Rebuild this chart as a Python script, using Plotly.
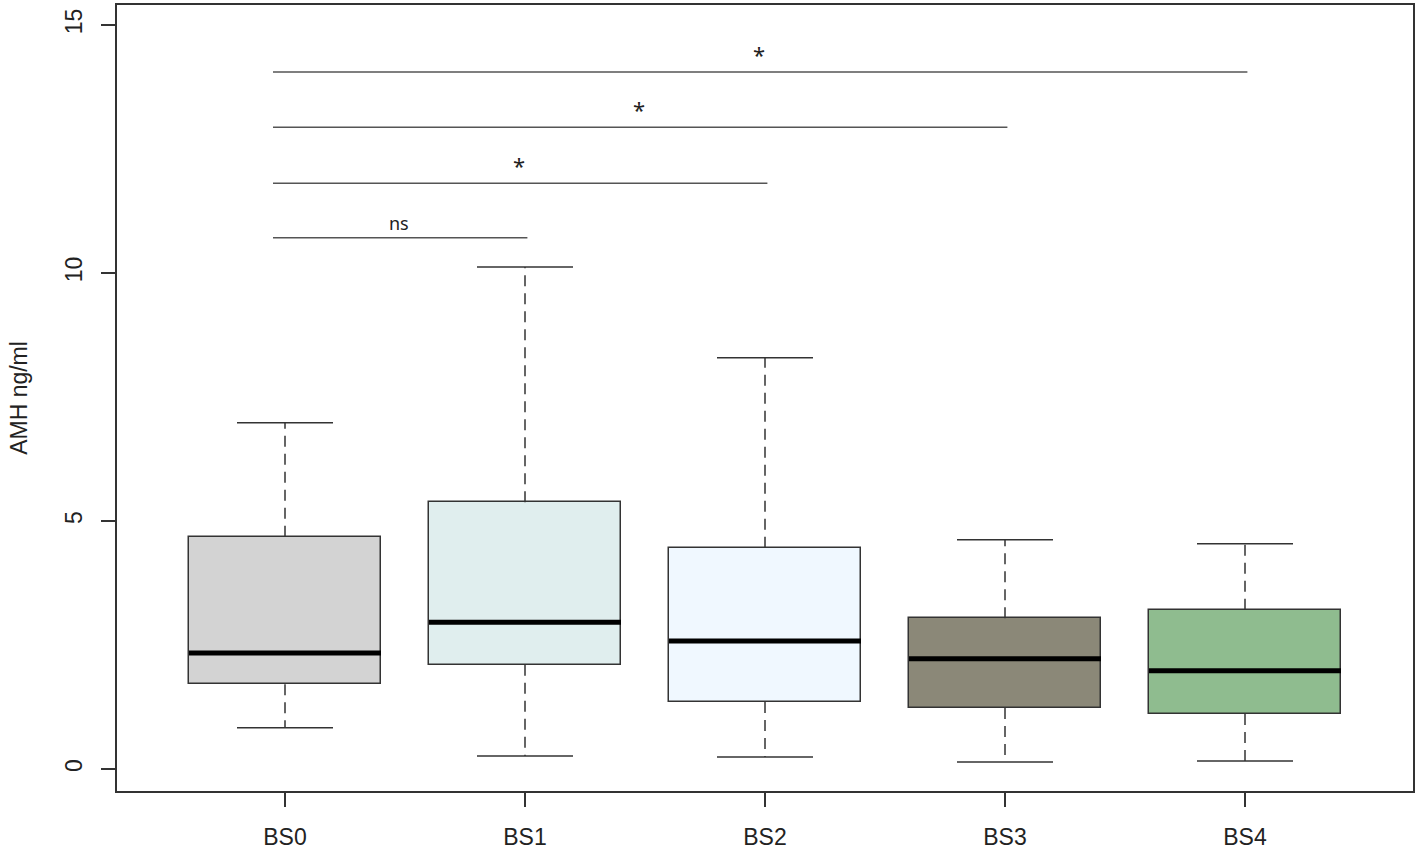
import plotly.graph_objects as go

# box statistics (AMH ng/ml)
groups = ['BS0', 'BS1', 'BS2', 'BS3', 'BS4']
lower = [0.83, 0.26, 0.24, 0.14, 0.16]
q1 = [1.71, 2.10, 1.35, 1.23, 1.11]
median = [2.34, 2.96, 2.58, 2.22, 1.98]
q3 = [4.68, 5.38, 4.46, 3.04, 3.21]
upper = [6.98, 10.12, 8.29, 4.62, 4.54]
colors = ['#D3D3D3', '#E0EEEE', '#F0F8FF', '#8B8878', '#8FBC8F']

# pairwise comparisons against BS0
comp_to = [1, 2, 3, 4]
comp_y = [10.71, 11.81, 12.94, 14.05]
comp_label = ['ns', '*', '*', '*']

pos = list(range(len(groups)))
box_w = 0.8
cap_w = 0.4
line_col = '#333333'

fig = go.Figure()

# boxes (q1..q3)
fig.add_trace(go.Bar(
    x=pos, base=q1, y=[b - a for a, b in zip(q1, q3)], width=box_w,
    marker=dict(color=colors, line=dict(color=line_col, width=1.5)),
    showlegend=False, hoverinfo='skip'))

# dashed whiskers
wx, wy = [], []
for i in pos:
    wx += [i, i, None, i, i, None]
    wy += [q3[i], upper[i], None, q1[i], lower[i], None]
fig.add_trace(go.Scatter(x=wx, y=wy, mode='lines', showlegend=False, hoverinfo='skip',
                         line=dict(color=line_col, width=1.5, dash='11px,7px')))

# whisker caps
cx, cy = [], []
for i in pos:
    for v in (upper[i], lower[i]):
        cx += [i - cap_w / 2, i + cap_w / 2, None]
        cy += [v, v, None]
fig.add_trace(go.Scatter(x=cx, y=cy, mode='lines', showlegend=False, hoverinfo='skip',
                         line=dict(color=line_col, width=1.5)))

# medians
mx, my = [], []
for i in pos:
    mx += [i - box_w / 2, i + box_w / 2, None]
    my += [median[i], median[i], None]
fig.add_trace(go.Scatter(x=mx, y=my, mode='lines', showlegend=False, hoverinfo='skip',
                         line=dict(color='black', width=5)))

# significance lines
sx, sy = [], []
for j, y in zip(comp_to, comp_y):
    sx += [-0.05, j + 0.01, None]
    sy += [y, y, None]
fig.add_trace(go.Scatter(x=sx, y=sy, mode='lines', showlegend=False, hoverinfo='skip',
                         line=dict(color='#555555', width=1.5)))

for j, y, lab in zip(comp_to, comp_y, comp_label):
    is_ns = lab == 'ns'
    fig.add_annotation(x=(j - 0.05) / 2, y=y, text=lab, showarrow=False,
                       yanchor='bottom', yshift=1,
                       font=dict(family='Noto Sans', size=18 if is_ns else 22, color='#222222'))

fig.update_layout(
    width=1417, height=850,
    margin=dict(l=117, r=4, t=5, b=59),
    plot_bgcolor='white', paper_bgcolor='white',
    font=dict(family='Liberation Sans, Arial', size=23, color='#222222'),
    bargap=0,
)
fig.update_xaxes(
    range=[-0.7, 4.7], tickmode='array', tickvals=pos, ticktext=groups,
    showline=True, linecolor=line_col, linewidth=1.7, mirror=True,
    ticks='outside', ticklen=14, tickwidth=1.5, tickcolor=line_col,
    ticklabelstandoff=11, showgrid=False, zeroline=False, automargin=False)
fig.update_yaxes(
    range=[-0.444, 15.403], tickmode='array', tickvals=[0, 5, 10, 15],
    tickangle=-90,
    showline=True, linecolor=line_col, linewidth=1.7, mirror=True,
    ticks='outside', ticklen=14, tickwidth=1.5, tickcolor=line_col,
    ticklabelstandoff=10, showgrid=False, zeroline=False, automargin=False,
    title=dict(text='AMH ng/ml', standoff=27, font=dict(size=23)))

fig.write_html("out.html", config={'displayModeBar': False},
               post_script="document.body.style.margin='0';")
